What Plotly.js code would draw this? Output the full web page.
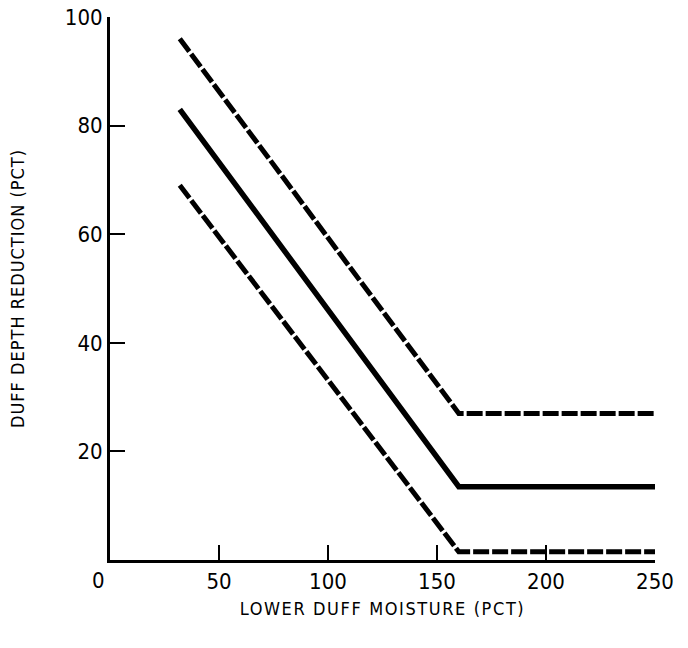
<!DOCTYPE html>
<html><head><meta charset="utf-8">
<script src="https://cdn.plot.ly/plotly-3.0.1.min.js"></script>
<style>
body{margin:0;background:#fff}
.xtitle{letter-spacing:1.6px}
.ytitle{letter-spacing:1.0px}
</style>
</head><body>
<div id="chart" style="width:688px;height:648px"></div>
<script>
const moisture = [32, 160, 250];
const upperBound = [96, 27, 27];
const meanReduction = [83, 13.5, 13.5];
const lowerBound = [69, 1.5, 1.5];
const xTicks = [0, 50, 100, 150, 200, 250];
const xTickText = ['', '50', '100', '150', '200', '250'];
const yTicks = [20, 40, 60, 80, 100];

const tickFamily = '"Liberation Sans Narrow", "DejaVu Sans Condensed", sans-serif';
const titleFamily = '"DejaVu Sans Condensed", "Liberation Sans Narrow", sans-serif';

const traces = [
  {x: moisture, y: upperBound, mode: 'lines', line: {color: '#000', width: 5, dash: '16px,3px'}},
  {x: moisture, y: meanReduction, mode: 'lines', line: {color: '#000', width: 5.5}},
  {x: moisture, y: lowerBound, mode: 'lines', line: {color: '#000', width: 5, dash: '16px,3px'}}
];

const layout = {
  width: 688, height: 648,
  margin: {l: 110, r: 33, t: 17, b: 88},
  paper_bgcolor: '#fff', plot_bgcolor: '#fff',
  showlegend: false,
  font: {family: titleFamily, size: 18, color: '#000'},
  xaxis: {
    range: [0, 250], tickvals: xTicks, ticktext: xTickText,
    showline: true, linewidth: 3, linecolor: '#000',
    ticks: 'inside', ticklen: 15, tickwidth: 2, tickcolor: '#000',
    showgrid: false, zeroline: false,
    tickfont: {family: tickFamily, size: 22, color: '#000'},
    title: {text: 'LOWER DUFF MOISTURE (PCT)', font: {family: titleFamily, size: 18, color: '#000'}, standoff: 9}
  },
  yaxis: {
    range: [0, 100], tickvals: yTicks, ticktext: yTicks.map(String),
    showline: true, linewidth: 3, linecolor: '#000',
    ticks: 'inside', ticklen: 15, tickwidth: 2, tickcolor: '#000',
    showgrid: false, zeroline: false,
    tickfont: {family: tickFamily, size: 22, color: '#000'},
    title: {text: 'DUFF DEPTH REDUCTION (PCT)', font: {family: titleFamily, size: 18, color: '#000'}, standoff: 36}
  },
  annotations: [
    {text: '0', x: 0, xref: 'x', y: 0, yref: 'paper', yanchor: 'top', xanchor: 'center',
     xshift: -12, yshift: -6, showarrow: false, font: {family: tickFamily, size: 22, color: '#000'}}
  ]
};

Plotly.newPlot('chart', traces, layout, {displayModeBar: false, staticPlot: true});
</script>
</body></html>
